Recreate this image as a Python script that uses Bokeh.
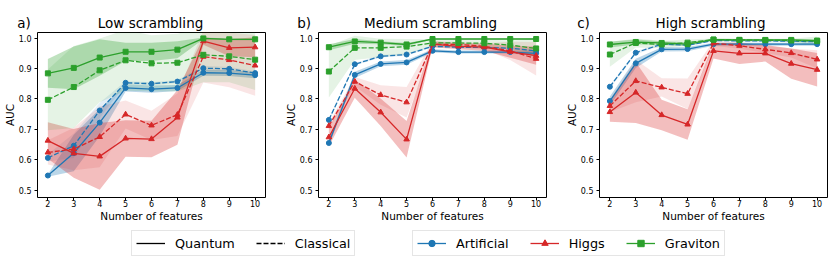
from bokeh.plotting import figure
from bokeh.layouts import column, row
from bokeh.models import Range1d, FixedTicker, PrintfTickFormatter, Label, Legend, LegendItem
from bokeh.embed import file_html
from bokeh.resources import INLINE

# ---------------- data ----------------
FEATURES = [2, 3, 4, 5, 6, 7, 8, 9, 10]
Y_TICKS = [0.5, 0.6, 0.7, 0.8, 0.9, 1.0]
PANEL_LETTERS = ["a)", "b)", "c)"]
PANEL_TITLES = ["Low scrambling", "Medium scrambling", "High scrambling"]
DATASETS = ["Artificial", "Higgs", "Graviton"]
METHODS = ["Quantum", "Classical"]

# Panel a (low scrambling): mean AUC and std
A_ART_Q = [0.548, 0.622, 0.722, 0.836, 0.832, 0.836, 0.886, 0.885, 0.878]
A_ART_Q_SD = [0.004, 0.060, 0.045, 0.012, 0.012, 0.010, 0.010, 0.010, 0.010]
A_ART_C = [0.606, 0.646, 0.762, 0.853, 0.850, 0.857, 0.901, 0.899, 0.885]
A_ART_C_SD = [0.012, 0.040, 0.025, 0.005, 0.005, 0.005, 0.008, 0.006, 0.006]
A_HIG_Q = [0.663, 0.621, 0.611, 0.670, 0.668, 0.739, 0.990, 0.968, 0.970]
A_HIG_Q_SD = [0.060, 0.080, 0.110, 0.060, 0.060, 0.090, 0.012, 0.028, 0.033]
A_HIG_C = [0.624, 0.635, 0.675, 0.749, 0.713, 0.748, 0.939, 0.928, 0.910]
A_HIG_C_SD = [0.040, 0.070, 0.100, 0.046, 0.048, 0.070, 0.085, 0.090, 0.100]
A_GRA_Q = [0.884, 0.902, 0.936, 0.955, 0.955, 0.962, 0.999, 0.996, 0.996]
A_GRA_Q_SD = [0.047, 0.070, 0.060, 0.030, 0.030, 0.028, 0.003, 0.003, 0.003]
A_GRA_C = [0.797, 0.839, 0.894, 0.927, 0.917, 0.919, 0.945, 0.940, 0.929]
A_GRA_C_SD = [0.100, 0.135, 0.105, 0.100, 0.092, 0.095, 0.090, 0.085, 0.100]

# Panel b (medium scrambling)
B_ART_Q = [0.655, 0.879, 0.915, 0.920, 0.958, 0.954, 0.954, 0.954, 0.950]
B_ART_Q_SD = [0.010, 0.010, 0.008, 0.008, 0.005, 0.005, 0.005, 0.005, 0.008]
B_ART_C = [0.731, 0.914, 0.940, 0.946, 0.973, 0.970, 0.969, 0.967, 0.958]
B_ART_C_SD = [0.005, 0.004, 0.004, 0.004, 0.003, 0.003, 0.003, 0.003, 0.005]
B_HIG_Q = [0.674, 0.834, 0.756, 0.667, 0.980, 0.973, 0.970, 0.955, 0.942]
B_HIG_Q_SD = [0.030, 0.030, 0.045, 0.060, 0.010, 0.010, 0.012, 0.020, 0.030]
B_HIG_C = [0.711, 0.857, 0.813, 0.789, 0.980, 0.979, 0.973, 0.958, 0.932]
B_HIG_C_SD = [0.010, 0.015, 0.032, 0.050, 0.010, 0.008, 0.010, 0.030, 0.055]
B_GRA_Q = [0.970, 0.989, 0.985, 0.979, 0.997, 0.997, 0.997, 0.997, 0.997]
B_GRA_Q_SD = [0.010, 0.008, 0.005, 0.005, 0.002, 0.002, 0.002, 0.002, 0.003]
B_GRA_C = [0.890, 0.968, 0.968, 0.972, 0.984, 0.984, 0.983, 0.977, 0.966]
B_GRA_C_SD = [0.085, 0.040, 0.030, 0.025, 0.012, 0.012, 0.012, 0.015, 0.030]

# Panel c (high scrambling)
C_ART_Q = [0.793, 0.917, 0.963, 0.964, 0.980, 0.980, 0.980, 0.980, 0.980]
C_ART_Q_SD = [0.015, 0.015, 0.007, 0.007, 0.005, 0.005, 0.005, 0.005, 0.005]
C_ART_C = [0.840, 0.952, 0.980, 0.977, 0.992, 0.991, 0.991, 0.990, 0.988]
C_ART_C_SD = [0.005, 0.005, 0.004, 0.004, 0.003, 0.003, 0.003, 0.003, 0.004]
C_HIG_Q = [0.757, 0.821, 0.747, 0.716, 0.958, 0.950, 0.950, 0.916, 0.896]
C_HIG_Q_SD = [0.032, 0.100, 0.050, 0.050, 0.025, 0.035, 0.027, 0.050, 0.055]
C_HIG_C = [0.777, 0.859, 0.838, 0.817, 0.983, 0.975, 0.963, 0.951, 0.930]
C_HIG_C_SD = [0.020, 0.070, 0.030, 0.050, 0.008, 0.010, 0.012, 0.015, 0.030]
C_GRA_Q = [0.979, 0.987, 0.984, 0.980, 0.995, 0.994, 0.994, 0.994, 0.992]
C_GRA_Q_SD = [0.010, 0.008, 0.006, 0.006, 0.003, 0.003, 0.003, 0.003, 0.004]
C_GRA_C = [0.946, 0.984, 0.979, 0.985, 0.995, 0.994, 0.993, 0.992, 0.990]
C_GRA_C_SD = [0.040, 0.015, 0.012, 0.010, 0.004, 0.004, 0.005, 0.006, 0.015]

PANELS = [
    {"Artificial": {"Quantum": (A_ART_Q, A_ART_Q_SD), "Classical": (A_ART_C, A_ART_C_SD)},
     "Higgs": {"Quantum": (A_HIG_Q, A_HIG_Q_SD), "Classical": (A_HIG_C, A_HIG_C_SD)},
     "Graviton": {"Quantum": (A_GRA_Q, A_GRA_Q_SD), "Classical": (A_GRA_C, A_GRA_C_SD)}},
    {"Artificial": {"Quantum": (B_ART_Q, B_ART_Q_SD), "Classical": (B_ART_C, B_ART_C_SD)},
     "Higgs": {"Quantum": (B_HIG_Q, B_HIG_Q_SD), "Classical": (B_HIG_C, B_HIG_C_SD)},
     "Graviton": {"Quantum": (B_GRA_Q, B_GRA_Q_SD), "Classical": (B_GRA_C, B_GRA_C_SD)}},
    {"Artificial": {"Quantum": (C_ART_Q, C_ART_Q_SD), "Classical": (C_ART_C, C_ART_C_SD)},
     "Higgs": {"Quantum": (C_HIG_Q, C_HIG_Q_SD), "Classical": (C_HIG_C, C_HIG_C_SD)},
     "Graviton": {"Quantum": (C_GRA_Q, C_GRA_Q_SD), "Classical": (C_GRA_C, C_GRA_C_SD)}},
]

# ---------------- style ----------------
COLORS = {"Artificial": "#1f77b4", "Higgs": "#d62728", "Graviton": "#2ca02c"}
MARKERS = {"Artificial": "circle", "Higgs": "triangle", "Graviton": "square"}
DASH = {"Quantum": "solid", "Classical": "5 2"}
BAND_ALPHA = {"Quantum": 0.3, "Classical": 0.12}
FONT = "DejaVu Sans"

FRAME_W, FRAME_H = 228, 165
LEFT_B, TOP_B, BOT_B = 36, 1, 30
PITCH = 280
RIGHT_BORDERS = [PITCH - FRAME_W - LEFT_B, PITCH - FRAME_W - LEFT_B, 4]
TOTAL_W = 2 * PITCH + LEFT_B + FRAME_W + RIGHT_BORDERS[2]
STRIP_H = 31
LEGEND_H = 31


def make_panel(idx, right_border):
    p = figure(frame_width=FRAME_W, frame_height=FRAME_H,
               x_range=Range1d(1.6, 10.4), y_range=Range1d(0.4757, 1.0184),
               min_border_left=LEFT_B, min_border_right=right_border,
               min_border_top=TOP_B, min_border_bottom=BOT_B,
               output_backend="svg", toolbar_location=None)
    p.grid.visible = False
    p.outline_line_color = "black"
    p.outline_line_width = 1
    p.outline_line_alpha = 1
    p.background_fill_color = "white"
    p.border_fill_color = "white"

    for ax in (p.xaxis[0], p.yaxis[0]):
        ax.axis_line_color = None
        ax.major_tick_line_color = "black"
        ax.major_tick_in = 0
        ax.major_tick_out = 3
        ax.minor_tick_line_color = None
        ax.major_label_text_font = FONT
        ax.major_label_text_font_size = "8px"
        ax.major_label_text_color = "black"
        ax.axis_label_text_font = FONT
        ax.axis_label_text_font_size = "10.5px"
        ax.axis_label_text_font_style = "normal"
        ax.axis_label_text_color = "black"

    p.xaxis.ticker = FixedTicker(ticks=FEATURES)
    p.xaxis.major_label_standoff = -1
    p.xaxis.axis_label = "Number of features"
    p.xaxis.axis_label_standoff = 0
    p.yaxis.ticker = FixedTicker(ticks=Y_TICKS)
    p.yaxis.formatter = PrintfTickFormatter(format="%.1f")
    p.yaxis.major_label_standoff = 3
    p.yaxis.axis_label = "AUC"
    p.yaxis.axis_label_standoff = 0

    data = PANELS[idx]
    for ds in DATASETS:
        for m in METHODS:
            mean, sd = data[ds][m]
            lo = [a - b for a, b in zip(mean, sd)]
            hi = [a + b for a, b in zip(mean, sd)]
            p.varea(x=FEATURES, y1=lo, y2=hi, fill_color=COLORS[ds],
                    fill_alpha=BAND_ALPHA[m])
    for ds in DATASETS:
        for m in METHODS:
            mean, sd = data[ds][m]
            p.line(FEATURES, mean, line_color=COLORS[ds], line_width=1.3,
                   line_dash=DASH[m])
            p.scatter(FEATURES, mean, marker=MARKERS[ds], size=5 if ds != "Higgs" else 5.5,
                      fill_color=COLORS[ds], line_color=COLORS[ds])
    return p


panels = [make_panel(i, RIGHT_BORDERS[i]) for i in range(3)]

# ---------------- title strip ----------------
strip = figure(width=TOTAL_W, height=STRIP_H, x_range=Range1d(0, 1), y_range=Range1d(0, 1),
               min_border=0, x_axis_location=None, y_axis_location=None,
               output_backend="svg", toolbar_location=None)
strip.grid.visible = False
strip.outline_line_color = None
for i in range(3):
    frame_left = i * PITCH + LEFT_B
    strip.add_layout(Label(x=frame_left + FRAME_W / 2, y=8.3, x_units="screen", y_units="screen",
                           text=PANEL_TITLES[i], text_align="center",
                           text_baseline="alphabetic", text_font=FONT,
                           text_font_size="13.5px", text_color="black"))
    strip.add_layout(Label(x=frame_left - 19.3, y=8.3, x_units="screen", y_units="screen",
                           text=PANEL_LETTERS[i], text_align="left",
                           text_baseline="alphabetic", text_font=FONT,
                           text_font_size="13.5px", text_color="black"))

# ---------------- legend strip ----------------
lg = figure(width=TOTAL_W, height=LEGEND_H, x_range=Range1d(0, 1), y_range=Range1d(0, 1),
            min_border=0, x_axis_location=None, y_axis_location=None,
            output_backend="svg", toolbar_location=None)
lg.grid.visible = False
lg.outline_line_color = None

items1 = []
for m in METHODS:
    r = lg.line([-10, -9], [-10, -9], line_color="black", line_width=1.3, line_dash=DASH[m])
    items1.append(LegendItem(label=m, renderers=[r]))
items2 = []
for ds in DATASETS:
    rl = lg.line([-10, -9], [-10, -9], line_color=COLORS[ds], line_width=1.3)
    rs = lg.scatter([-10], [-10], marker=MARKERS[ds], size=5,
                    fill_color=COLORS[ds], line_color=COLORS[ds])
    items2.append(LegendItem(label=ds, renderers=[rl, rs]))


def style_legend(leg):
    leg.orientation = "horizontal"
    leg.padding = 4
    leg.spacing = 21
    leg.margin = 0
    leg.label_standoff = 10
    leg.glyph_width = 29
    leg.glyph_height = 16
    leg.label_height = 16
    leg.label_text_font = FONT
    leg.label_text_font_size = "12.8px"
    leg.label_text_color = "black"
    leg.border_line_color = "#cccccc"
    leg.border_line_width = 1
    leg.background_fill_color = "white"
    leg.background_fill_alpha = 1


leg1 = Legend(items=items1, location=(131, 2))
style_legend(leg1)
leg2 = Legend(items=items2, location=(412, 2))
style_legend(leg2)
lg.add_layout(leg1, "center")
lg.add_layout(leg2, "center")

layout = column(strip, row(*panels), lg)

open("out.html", "w").write(file_html(layout, INLINE))
